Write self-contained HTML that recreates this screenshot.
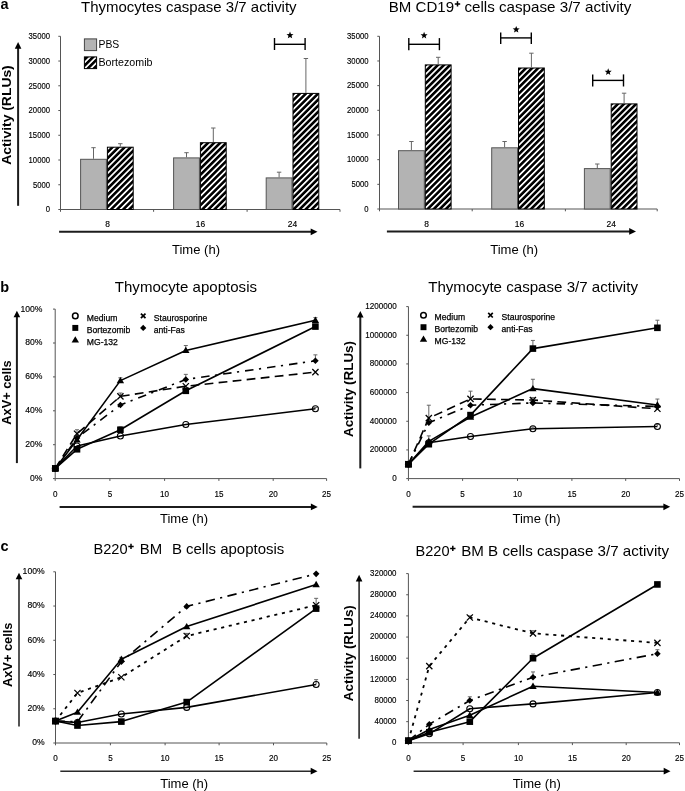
<!DOCTYPE html><html><head><meta charset="utf-8"><style>html,body{margin:0;padding:0;background:#fff;}svg{display:block;will-change:transform;}text{font-family:"Liberation Sans", sans-serif;fill:#000;}</style></head><body>
<svg width="685" height="791" viewBox="0 0 685 791">
<defs><pattern id="hatch" patternUnits="userSpaceOnUse" width="4.3" height="4.3" patternTransform="rotate(45)"><rect width="4.3" height="4.3" fill="#000"/><rect x="0" y="0" width="1.7" height="4.3" fill="#fff"/></pattern></defs>
<rect width="685" height="791" fill="#fff"/>
<text x="0.40" y="8.80" font-size="14.5" text-anchor="start" font-weight="bold">a</text>
<text x="0.30" y="292.40" font-size="14.5" text-anchor="start" font-weight="bold">b</text>
<text x="0.60" y="550.80" font-size="14.5" text-anchor="start" font-weight="bold">c</text>
<text x="81.00" y="11.70" font-size="14.8" text-anchor="start" font-weight="normal" textLength="215.6" lengthAdjust="spacingAndGlyphs" xml:space="preserve">Thymocytes caspase 3/7 activity</text>
<text x="388.80" y="11.70" font-size="14.8" text-anchor="start" font-weight="normal" textLength="65.2" lengthAdjust="spacingAndGlyphs" xml:space="preserve">BM CD19</text>
<path d="M454.80,3.90H460.20M457.50,1.20V6.60" stroke="#000" stroke-width="1.5" fill="none"/>
<text x="464.40" y="11.70" font-size="14.8" text-anchor="start" font-weight="normal" textLength="167.0" lengthAdjust="spacingAndGlyphs" xml:space="preserve">cells caspase 3/7 activity</text>
<line x1="60.50" y1="36.30" x2="60.50" y2="209.50" stroke="#555" stroke-width="1"/>
<line x1="58.30" y1="209.50" x2="60.50" y2="209.50" stroke="#555" stroke-width="1"/>
<text x="50.00" y="212.30" font-size="8.6" text-anchor="end" font-weight="normal" textLength="4.28" lengthAdjust="spacingAndGlyphs" stroke="#000" stroke-width="0.15">0</text>
<line x1="58.30" y1="184.76" x2="60.50" y2="184.76" stroke="#555" stroke-width="1"/>
<text x="50.00" y="187.56" font-size="8.6" text-anchor="end" font-weight="normal" textLength="17.12" lengthAdjust="spacingAndGlyphs" stroke="#000" stroke-width="0.15">5000</text>
<line x1="58.30" y1="160.01" x2="60.50" y2="160.01" stroke="#555" stroke-width="1"/>
<text x="50.00" y="162.81" font-size="8.6" text-anchor="end" font-weight="normal" textLength="21.4" lengthAdjust="spacingAndGlyphs" stroke="#000" stroke-width="0.15">10000</text>
<line x1="58.30" y1="135.27" x2="60.50" y2="135.27" stroke="#555" stroke-width="1"/>
<text x="50.00" y="138.07" font-size="8.6" text-anchor="end" font-weight="normal" textLength="21.4" lengthAdjust="spacingAndGlyphs" stroke="#000" stroke-width="0.15">15000</text>
<line x1="58.30" y1="110.53" x2="60.50" y2="110.53" stroke="#555" stroke-width="1"/>
<text x="50.00" y="113.33" font-size="8.6" text-anchor="end" font-weight="normal" textLength="21.4" lengthAdjust="spacingAndGlyphs" stroke="#000" stroke-width="0.15">20000</text>
<line x1="58.30" y1="85.79" x2="60.50" y2="85.79" stroke="#555" stroke-width="1"/>
<text x="50.00" y="88.59" font-size="8.6" text-anchor="end" font-weight="normal" textLength="21.4" lengthAdjust="spacingAndGlyphs" stroke="#000" stroke-width="0.15">25000</text>
<line x1="58.30" y1="61.04" x2="60.50" y2="61.04" stroke="#555" stroke-width="1"/>
<text x="50.00" y="63.84" font-size="8.6" text-anchor="end" font-weight="normal" textLength="21.4" lengthAdjust="spacingAndGlyphs" stroke="#000" stroke-width="0.15">30000</text>
<line x1="58.30" y1="36.30" x2="60.50" y2="36.30" stroke="#555" stroke-width="1"/>
<text x="50.00" y="39.10" font-size="8.6" text-anchor="end" font-weight="normal" textLength="21.4" lengthAdjust="spacingAndGlyphs" stroke="#000" stroke-width="0.15">35000</text>
<line x1="60.50" y1="209.50" x2="340.00" y2="209.50" stroke="#555" stroke-width="1"/>
<line x1="60.50" y1="209.50" x2="60.50" y2="211.80" stroke="#555" stroke-width="1"/>
<line x1="153.60" y1="209.50" x2="153.60" y2="211.80" stroke="#555" stroke-width="1"/>
<line x1="247.10" y1="209.50" x2="247.10" y2="211.80" stroke="#555" stroke-width="1"/>
<line x1="340.00" y1="209.50" x2="340.00" y2="211.80" stroke="#555" stroke-width="1"/>
<rect x="80.60" y="159.30" width="25.80" height="50.20" fill="#b3b3b3" stroke="#555" stroke-width="1"/>
<line x1="93.50" y1="158.80" x2="93.50" y2="147.70" stroke="#666" stroke-width="1"/>
<line x1="91.30" y1="147.70" x2="95.70" y2="147.70" stroke="#666" stroke-width="1"/>
<rect x="107.40" y="147.20" width="25.80" height="62.30" fill="url(#hatch)" stroke="#000" stroke-width="1"/>
<line x1="120.30" y1="146.70" x2="120.30" y2="143.70" stroke="#666" stroke-width="1"/>
<line x1="118.10" y1="143.70" x2="122.50" y2="143.70" stroke="#666" stroke-width="1"/>
<rect x="173.60" y="157.90" width="25.80" height="51.60" fill="#b3b3b3" stroke="#555" stroke-width="1"/>
<line x1="186.50" y1="157.40" x2="186.50" y2="152.70" stroke="#666" stroke-width="1"/>
<line x1="184.30" y1="152.70" x2="188.70" y2="152.70" stroke="#666" stroke-width="1"/>
<rect x="200.40" y="142.70" width="25.80" height="66.80" fill="url(#hatch)" stroke="#000" stroke-width="1"/>
<line x1="213.30" y1="142.20" x2="213.30" y2="128.00" stroke="#666" stroke-width="1"/>
<line x1="211.10" y1="128.00" x2="215.50" y2="128.00" stroke="#666" stroke-width="1"/>
<rect x="266.20" y="177.90" width="25.80" height="31.60" fill="#b3b3b3" stroke="#555" stroke-width="1"/>
<line x1="279.10" y1="177.40" x2="279.10" y2="172.20" stroke="#666" stroke-width="1"/>
<line x1="276.90" y1="172.20" x2="281.30" y2="172.20" stroke="#666" stroke-width="1"/>
<rect x="293.00" y="93.40" width="25.80" height="116.10" fill="url(#hatch)" stroke="#000" stroke-width="1"/>
<line x1="305.90" y1="92.90" x2="305.90" y2="58.50" stroke="#666" stroke-width="1"/>
<line x1="303.70" y1="58.50" x2="308.10" y2="58.50" stroke="#666" stroke-width="1"/>
<text x="107.60" y="227.40" font-size="9.0" text-anchor="middle" font-weight="normal" textLength="4.7" lengthAdjust="spacingAndGlyphs" stroke="#000" stroke-width="0.15">8</text>
<text x="200.50" y="227.40" font-size="9.0" text-anchor="middle" font-weight="normal" textLength="9.4" lengthAdjust="spacingAndGlyphs" stroke="#000" stroke-width="0.15">16</text>
<text x="292.50" y="227.40" font-size="9.0" text-anchor="middle" font-weight="normal" textLength="9.4" lengthAdjust="spacingAndGlyphs" stroke="#000" stroke-width="0.15">24</text>
<line x1="274.50" y1="44.30" x2="305.10" y2="44.30" stroke="#000" stroke-width="1.4"/>
<line x1="274.50" y1="38.00" x2="274.50" y2="50.00" stroke="#000" stroke-width="1.4"/>
<line x1="305.10" y1="38.00" x2="305.10" y2="50.00" stroke="#000" stroke-width="1.4"/>
<polygon points="290.00,31.60 290.94,34.01 293.52,34.16 291.52,35.79 292.17,38.29 290.00,36.90 287.83,38.29 288.48,35.79 286.48,34.16 289.06,34.01" fill="#000"/>
<rect x="84.4" y="38.9" width="12.2" height="11.7" fill="#b3b3b3" stroke="#444" stroke-width="1"/>
<rect x="84.4" y="56.9" width="12.2" height="11.7" fill="url(#hatch)" stroke="#000" stroke-width="1"/>
<text x="98.50" y="47.60" font-size="10.4" text-anchor="start" font-weight="normal">PBS</text>
<text x="98.50" y="65.70" font-size="10.4" text-anchor="start" font-weight="normal" textLength="54.0" lengthAdjust="spacingAndGlyphs">Bortezomib</text>
<line x1="18.10" y1="205.80" x2="18.10" y2="47.70" stroke="#1c1c1c" stroke-width="2.0"/>
<polygon points="18.10,42.10 14.80,48.70 21.40,48.70" fill="#000"/>
<text transform="translate(10.80,115.00) rotate(-90)" x="0" y="0" font-size="13.3" font-weight="bold" text-anchor="middle" textLength="99.5" lengthAdjust="spacingAndGlyphs">Activity (RLUs)</text>
<line x1="59.10" y1="231.80" x2="311.70" y2="231.80" stroke="#1c1c1c" stroke-width="2.0"/>
<polygon points="317.50,231.80 310.70,228.40 310.70,235.20" fill="#000"/>
<text x="172.00" y="254.40" font-size="12.5" text-anchor="start" font-weight="normal" textLength="48.0" lengthAdjust="spacingAndGlyphs">Time (h)</text>
<line x1="379.50" y1="36.30" x2="379.50" y2="209.00" stroke="#555" stroke-width="1"/>
<line x1="377.30" y1="209.00" x2="379.50" y2="209.00" stroke="#555" stroke-width="1"/>
<text x="368.50" y="211.80" font-size="8.6" text-anchor="end" font-weight="normal" textLength="4.28" lengthAdjust="spacingAndGlyphs" stroke="#000" stroke-width="0.15">0</text>
<line x1="377.30" y1="184.33" x2="379.50" y2="184.33" stroke="#555" stroke-width="1"/>
<text x="368.50" y="187.13" font-size="8.6" text-anchor="end" font-weight="normal" textLength="17.12" lengthAdjust="spacingAndGlyphs" stroke="#000" stroke-width="0.15">5000</text>
<line x1="377.30" y1="159.66" x2="379.50" y2="159.66" stroke="#555" stroke-width="1"/>
<text x="368.50" y="162.46" font-size="8.6" text-anchor="end" font-weight="normal" textLength="21.4" lengthAdjust="spacingAndGlyphs" stroke="#000" stroke-width="0.15">10000</text>
<line x1="377.30" y1="134.99" x2="379.50" y2="134.99" stroke="#555" stroke-width="1"/>
<text x="368.50" y="137.79" font-size="8.6" text-anchor="end" font-weight="normal" textLength="21.4" lengthAdjust="spacingAndGlyphs" stroke="#000" stroke-width="0.15">15000</text>
<line x1="377.30" y1="110.31" x2="379.50" y2="110.31" stroke="#555" stroke-width="1"/>
<text x="368.50" y="113.11" font-size="8.6" text-anchor="end" font-weight="normal" textLength="21.4" lengthAdjust="spacingAndGlyphs" stroke="#000" stroke-width="0.15">20000</text>
<line x1="377.30" y1="85.64" x2="379.50" y2="85.64" stroke="#555" stroke-width="1"/>
<text x="368.50" y="88.44" font-size="8.6" text-anchor="end" font-weight="normal" textLength="21.4" lengthAdjust="spacingAndGlyphs" stroke="#000" stroke-width="0.15">25000</text>
<line x1="377.30" y1="60.97" x2="379.50" y2="60.97" stroke="#555" stroke-width="1"/>
<text x="368.50" y="63.77" font-size="8.6" text-anchor="end" font-weight="normal" textLength="21.4" lengthAdjust="spacingAndGlyphs" stroke="#000" stroke-width="0.15">30000</text>
<line x1="377.30" y1="36.30" x2="379.50" y2="36.30" stroke="#555" stroke-width="1"/>
<text x="368.50" y="39.10" font-size="8.6" text-anchor="end" font-weight="normal" textLength="21.4" lengthAdjust="spacingAndGlyphs" stroke="#000" stroke-width="0.15">35000</text>
<line x1="379.50" y1="209.00" x2="657.20" y2="209.00" stroke="#555" stroke-width="1"/>
<line x1="379.50" y1="209.00" x2="379.50" y2="211.30" stroke="#555" stroke-width="1"/>
<line x1="472.20" y1="209.00" x2="472.20" y2="211.30" stroke="#555" stroke-width="1"/>
<line x1="565.40" y1="209.00" x2="565.40" y2="211.30" stroke="#555" stroke-width="1"/>
<line x1="657.20" y1="209.00" x2="657.20" y2="211.30" stroke="#555" stroke-width="1"/>
<rect x="398.50" y="150.70" width="25.80" height="58.30" fill="#b3b3b3" stroke="#555" stroke-width="1"/>
<line x1="411.40" y1="150.20" x2="411.40" y2="141.50" stroke="#666" stroke-width="1"/>
<line x1="409.20" y1="141.50" x2="413.60" y2="141.50" stroke="#666" stroke-width="1"/>
<rect x="425.30" y="64.90" width="25.80" height="144.10" fill="url(#hatch)" stroke="#000" stroke-width="1"/>
<line x1="438.20" y1="64.40" x2="438.20" y2="57.30" stroke="#666" stroke-width="1"/>
<line x1="436.00" y1="57.30" x2="440.40" y2="57.30" stroke="#666" stroke-width="1"/>
<rect x="491.70" y="147.80" width="25.80" height="61.20" fill="#b3b3b3" stroke="#555" stroke-width="1"/>
<line x1="504.60" y1="147.30" x2="504.60" y2="141.50" stroke="#666" stroke-width="1"/>
<line x1="502.40" y1="141.50" x2="506.80" y2="141.50" stroke="#666" stroke-width="1"/>
<rect x="518.50" y="68.00" width="25.80" height="141.00" fill="url(#hatch)" stroke="#000" stroke-width="1"/>
<line x1="531.40" y1="67.50" x2="531.40" y2="53.20" stroke="#666" stroke-width="1"/>
<line x1="529.20" y1="53.20" x2="533.60" y2="53.20" stroke="#666" stroke-width="1"/>
<rect x="584.40" y="168.60" width="25.80" height="40.40" fill="#b3b3b3" stroke="#555" stroke-width="1"/>
<line x1="597.30" y1="168.10" x2="597.30" y2="164.00" stroke="#666" stroke-width="1"/>
<line x1="595.10" y1="164.00" x2="599.50" y2="164.00" stroke="#666" stroke-width="1"/>
<rect x="611.20" y="103.90" width="25.80" height="105.10" fill="url(#hatch)" stroke="#000" stroke-width="1"/>
<line x1="624.10" y1="103.40" x2="624.10" y2="93.20" stroke="#666" stroke-width="1"/>
<line x1="621.90" y1="93.20" x2="626.30" y2="93.20" stroke="#666" stroke-width="1"/>
<text x="426.50" y="227.10" font-size="9.0" text-anchor="middle" font-weight="normal" textLength="4.7" lengthAdjust="spacingAndGlyphs" stroke="#000" stroke-width="0.15">8</text>
<text x="519.40" y="227.10" font-size="9.0" text-anchor="middle" font-weight="normal" textLength="9.4" lengthAdjust="spacingAndGlyphs" stroke="#000" stroke-width="0.15">16</text>
<text x="611.20" y="227.10" font-size="9.0" text-anchor="middle" font-weight="normal" textLength="9.4" lengthAdjust="spacingAndGlyphs" stroke="#000" stroke-width="0.15">24</text>
<line x1="408.80" y1="44.30" x2="439.40" y2="44.30" stroke="#000" stroke-width="1.4"/>
<line x1="408.80" y1="38.10" x2="408.80" y2="50.20" stroke="#000" stroke-width="1.4"/>
<line x1="439.40" y1="38.10" x2="439.40" y2="50.20" stroke="#000" stroke-width="1.4"/>
<polygon points="424.10,31.80 425.04,34.21 427.62,34.36 425.62,35.99 426.27,38.49 424.10,37.10 421.93,38.49 422.58,35.99 420.58,34.36 423.16,34.21" fill="#000"/>
<line x1="500.70" y1="37.90" x2="531.30" y2="37.90" stroke="#000" stroke-width="1.4"/>
<line x1="500.70" y1="32.40" x2="500.70" y2="44.10" stroke="#000" stroke-width="1.4"/>
<line x1="531.30" y1="32.40" x2="531.30" y2="44.10" stroke="#000" stroke-width="1.4"/>
<polygon points="516.20,25.90 517.14,28.31 519.72,28.46 517.72,30.09 518.37,32.59 516.20,31.20 514.03,32.59 514.68,30.09 512.68,28.46 515.26,28.31" fill="#000"/>
<line x1="592.70" y1="80.40" x2="623.50" y2="80.40" stroke="#000" stroke-width="1.4"/>
<line x1="592.70" y1="74.40" x2="592.70" y2="86.50" stroke="#000" stroke-width="1.4"/>
<line x1="623.50" y1="74.40" x2="623.50" y2="86.50" stroke="#000" stroke-width="1.4"/>
<polygon points="608.20,68.30 609.14,70.71 611.72,70.86 609.72,72.49 610.37,74.99 608.20,73.60 606.03,74.99 606.68,72.49 604.68,70.86 607.26,70.71" fill="#000"/>
<line x1="386.90" y1="231.40" x2="630.20" y2="231.40" stroke="#1c1c1c" stroke-width="2.0"/>
<polygon points="636.00,231.40 629.20,228.00 629.20,234.80" fill="#000"/>
<text x="490.20" y="254.40" font-size="12.5" text-anchor="start" font-weight="normal" textLength="48.0" lengthAdjust="spacingAndGlyphs">Time (h)</text>
<text x="114.80" y="291.80" font-size="14.8" text-anchor="start" font-weight="normal" textLength="142.2" lengthAdjust="spacingAndGlyphs" xml:space="preserve">Thymocyte apoptosis</text>
<text x="428.20" y="292.30" font-size="14.8" text-anchor="start" font-weight="normal" textLength="209.8" lengthAdjust="spacingAndGlyphs" xml:space="preserve">Thymocyte caspase 3/7 activity</text>
<line x1="55.20" y1="309.10" x2="55.20" y2="478.60" stroke="#555" stroke-width="1"/>
<line x1="53.00" y1="478.60" x2="55.20" y2="478.60" stroke="#555" stroke-width="1"/>
<text x="42.50" y="481.00" font-size="8.6" text-anchor="end" font-weight="normal" stroke="#000" stroke-width="0.15">0%</text>
<line x1="53.00" y1="444.70" x2="55.20" y2="444.70" stroke="#555" stroke-width="1"/>
<text x="42.50" y="447.10" font-size="8.6" text-anchor="end" font-weight="normal" stroke="#000" stroke-width="0.15">20%</text>
<line x1="53.00" y1="410.80" x2="55.20" y2="410.80" stroke="#555" stroke-width="1"/>
<text x="42.50" y="413.20" font-size="8.6" text-anchor="end" font-weight="normal" stroke="#000" stroke-width="0.15">40%</text>
<line x1="53.00" y1="376.90" x2="55.20" y2="376.90" stroke="#555" stroke-width="1"/>
<text x="42.50" y="379.30" font-size="8.6" text-anchor="end" font-weight="normal" stroke="#000" stroke-width="0.15">60%</text>
<line x1="53.00" y1="343.00" x2="55.20" y2="343.00" stroke="#555" stroke-width="1"/>
<text x="42.50" y="345.40" font-size="8.6" text-anchor="end" font-weight="normal" stroke="#000" stroke-width="0.15">80%</text>
<line x1="53.00" y1="309.10" x2="55.20" y2="309.10" stroke="#555" stroke-width="1"/>
<text x="42.50" y="311.50" font-size="8.6" text-anchor="end" font-weight="normal" stroke="#000" stroke-width="0.15">100%</text>
<line x1="55.20" y1="478.60" x2="326.60" y2="478.60" stroke="#555" stroke-width="1"/>
<line x1="55.20" y1="478.60" x2="55.20" y2="480.90" stroke="#555" stroke-width="1"/>
<text x="55.20" y="497.00" font-size="8.6" text-anchor="middle" font-weight="normal" textLength="4.5" lengthAdjust="spacingAndGlyphs" stroke="#000" stroke-width="0.15">0</text>
<line x1="109.90" y1="478.60" x2="109.90" y2="480.90" stroke="#555" stroke-width="1"/>
<text x="109.90" y="497.00" font-size="8.6" text-anchor="middle" font-weight="normal" textLength="4.5" lengthAdjust="spacingAndGlyphs" stroke="#000" stroke-width="0.15">5</text>
<line x1="164.60" y1="478.60" x2="164.60" y2="480.90" stroke="#555" stroke-width="1"/>
<text x="164.60" y="497.00" font-size="8.6" text-anchor="middle" font-weight="normal" textLength="9.0" lengthAdjust="spacingAndGlyphs" stroke="#000" stroke-width="0.15">10</text>
<line x1="218.90" y1="478.60" x2="218.90" y2="480.90" stroke="#555" stroke-width="1"/>
<text x="218.90" y="497.00" font-size="8.6" text-anchor="middle" font-weight="normal" textLength="9.0" lengthAdjust="spacingAndGlyphs" stroke="#000" stroke-width="0.15">15</text>
<line x1="273.20" y1="478.60" x2="273.20" y2="480.90" stroke="#555" stroke-width="1"/>
<text x="273.20" y="497.00" font-size="8.6" text-anchor="middle" font-weight="normal" textLength="9.0" lengthAdjust="spacingAndGlyphs" stroke="#000" stroke-width="0.15">20</text>
<line x1="326.60" y1="478.60" x2="326.60" y2="480.90" stroke="#555" stroke-width="1"/>
<text x="326.60" y="497.00" font-size="8.6" text-anchor="middle" font-weight="normal" textLength="9.0" lengthAdjust="spacingAndGlyphs" stroke="#000" stroke-width="0.15">25</text>
<polyline points="55.30,468.43 77.00,446.06 120.40,436.06 185.80,424.53 315.40,408.77" fill="none" stroke="#000" stroke-width="1.6" stroke-linejoin="round"/>
<polyline points="55.30,468.43 77.00,449.28 120.40,429.78 185.80,390.80 315.40,326.56" fill="none" stroke="#000" stroke-width="1.6" stroke-linejoin="round"/>
<polyline points="55.30,468.43 77.00,439.78 120.40,380.63 185.80,350.46 315.40,320.29" fill="none" stroke="#000" stroke-width="1.6" stroke-linejoin="round"/>
<polyline points="55.30,468.43 77.00,433.68 120.40,396.39 185.80,386.22 315.40,372.15" fill="none" stroke="#000" stroke-width="1.6" stroke-dasharray="8.8,5.3" stroke-linejoin="round"/>
<polyline points="55.30,468.43 77.00,437.92 120.40,405.04 185.80,379.44 315.40,360.80" fill="none" stroke="#000" stroke-width="1.6" stroke-dasharray="8.5,5.5,2.2,6" stroke-linejoin="round"/>
<line x1="120.40" y1="380.63" x2="120.40" y2="377.75" stroke="#666" stroke-width="1"/>
<line x1="118.40" y1="377.75" x2="122.40" y2="377.75" stroke="#666" stroke-width="1"/>
<line x1="185.80" y1="350.46" x2="185.80" y2="345.54" stroke="#666" stroke-width="1"/>
<line x1="183.80" y1="345.54" x2="187.80" y2="345.54" stroke="#666" stroke-width="1"/>
<line x1="185.80" y1="379.44" x2="185.80" y2="374.36" stroke="#666" stroke-width="1"/>
<line x1="183.80" y1="374.36" x2="187.80" y2="374.36" stroke="#666" stroke-width="1"/>
<line x1="315.40" y1="360.80" x2="315.40" y2="354.87" stroke="#666" stroke-width="1"/>
<line x1="313.40" y1="354.87" x2="317.40" y2="354.87" stroke="#666" stroke-width="1"/>
<line x1="77.00" y1="433.68" x2="77.00" y2="429.78" stroke="#666" stroke-width="1"/>
<line x1="75.00" y1="429.78" x2="79.00" y2="429.78" stroke="#666" stroke-width="1"/>
<line x1="120.40" y1="396.39" x2="120.40" y2="393.00" stroke="#666" stroke-width="1"/>
<line x1="118.40" y1="393.00" x2="122.40" y2="393.00" stroke="#666" stroke-width="1"/>
<line x1="120.40" y1="429.78" x2="120.40" y2="426.90" stroke="#666" stroke-width="1"/>
<line x1="118.40" y1="426.90" x2="122.40" y2="426.90" stroke="#666" stroke-width="1"/>
<line x1="315.40" y1="320.29" x2="315.40" y2="317.58" stroke="#666" stroke-width="1"/>
<line x1="313.40" y1="317.58" x2="317.40" y2="317.58" stroke="#666" stroke-width="1"/>
<line x1="315.40" y1="408.77" x2="315.40" y2="407.41" stroke="#666" stroke-width="1"/>
<line x1="313.40" y1="407.41" x2="317.40" y2="407.41" stroke="#666" stroke-width="1"/>
<polygon points="55.30,465.13 58.60,468.43 55.30,471.73 52.00,468.43" fill="#000"/>
<polygon points="77.00,434.62 80.30,437.92 77.00,441.22 73.70,437.92" fill="#000"/>
<polygon points="120.40,401.74 123.70,405.04 120.40,408.34 117.10,405.04" fill="#000"/>
<polygon points="185.80,376.14 189.10,379.44 185.80,382.74 182.50,379.44" fill="#000"/>
<polygon points="315.40,357.50 318.70,360.80 315.40,364.10 312.10,360.80" fill="#000"/>
<path d="M52.20,465.33L58.40,471.53M58.40,465.33L52.20,471.53" stroke="#000" stroke-width="1.25" fill="none"/>
<path d="M73.90,430.58L80.10,436.78M80.10,430.58L73.90,436.78" stroke="#000" stroke-width="1.25" fill="none"/>
<path d="M117.30,393.29L123.50,399.49M123.50,393.29L117.30,399.49" stroke="#000" stroke-width="1.25" fill="none"/>
<path d="M182.70,383.12L188.90,389.32M188.90,383.12L182.70,389.32" stroke="#000" stroke-width="1.25" fill="none"/>
<path d="M312.30,369.05L318.50,375.25M318.50,369.05L312.30,375.25" stroke="#000" stroke-width="1.25" fill="none"/>
<circle cx="55.30" cy="468.43" r="3.00" fill="none" stroke="#000" stroke-width="1.1"/>
<circle cx="77.00" cy="446.06" r="3.00" fill="none" stroke="#000" stroke-width="1.1"/>
<circle cx="120.40" cy="436.06" r="3.00" fill="none" stroke="#000" stroke-width="1.1"/>
<circle cx="185.80" cy="424.53" r="3.00" fill="none" stroke="#000" stroke-width="1.1"/>
<circle cx="315.40" cy="408.77" r="3.00" fill="none" stroke="#000" stroke-width="1.1"/>
<polygon points="55.30,464.73 51.60,471.09 59.00,471.09" fill="#000"/>
<polygon points="77.00,436.08 73.30,442.45 80.70,442.45" fill="#000"/>
<polygon points="120.40,376.93 116.70,383.29 124.10,383.29" fill="#000"/>
<polygon points="185.80,346.76 182.10,353.12 189.50,353.12" fill="#000"/>
<polygon points="315.40,316.59 311.70,322.95 319.10,322.95" fill="#000"/>
<rect x="52.00" y="465.13" width="6.60" height="6.60" fill="#000"/>
<rect x="73.70" y="445.98" width="6.60" height="6.60" fill="#000"/>
<rect x="117.10" y="426.48" width="6.60" height="6.60" fill="#000"/>
<rect x="182.50" y="387.50" width="6.60" height="6.60" fill="#000"/>
<rect x="312.10" y="323.26" width="6.60" height="6.60" fill="#000"/>
<circle cx="75.30" cy="315.90" r="2.8" fill="none" stroke="#000" stroke-width="1.5"/>
<text x="86.80" y="320.70" font-size="8.6" text-anchor="start" font-weight="normal" stroke="#000" stroke-width="0.25">Medium</text>
<rect x="72.33" y="324.93" width="5.94" height="5.94" fill="#000"/>
<text x="86.80" y="332.70" font-size="8.6" text-anchor="start" font-weight="normal" stroke="#000" stroke-width="0.25">Bortezomib</text>
<polygon points="75.30,336.20 71.60,342.56 79.00,342.56" fill="#000"/>
<text x="86.80" y="344.70" font-size="8.6" text-anchor="start" font-weight="normal" stroke="#000" stroke-width="0.25">MG-132</text>
<path d="M140.90,313.60L145.50,318.20M145.50,313.60L140.90,318.20" stroke="#000" stroke-width="1.7" fill="none"/>
<text x="153.80" y="320.70" font-size="8.6" text-anchor="start" font-weight="normal" stroke="#000" stroke-width="0.25">Staurosporine</text>
<polygon points="143.20,324.76 146.33,327.90 143.20,331.03 140.06,327.90" fill="#000"/>
<text x="153.80" y="332.70" font-size="8.6" text-anchor="start" font-weight="normal" stroke="#000" stroke-width="0.25">anti-Fas</text>
<line x1="16.90" y1="463.10" x2="16.90" y2="316.30" stroke="#1c1c1c" stroke-width="2.0"/>
<polygon points="16.90,310.70 13.60,317.30 20.20,317.30" fill="#000"/>
<text transform="translate(11.20,392.50) rotate(-90)" x="0" y="0" font-size="13.2" font-weight="bold" text-anchor="middle" textLength="64.4" lengthAdjust="spacingAndGlyphs">AxV+ cells</text>
<line x1="59.60" y1="506.90" x2="311.90" y2="506.90" stroke="#1c1c1c" stroke-width="2.0"/>
<polygon points="317.70,506.90 310.90,503.50 310.90,510.30" fill="#000"/>
<text x="160.00" y="523.20" font-size="12.5" text-anchor="start" font-weight="normal" textLength="48.0" lengthAdjust="spacingAndGlyphs">Time (h)</text>
<line x1="408.45" y1="306.60" x2="408.45" y2="478.60" stroke="#555" stroke-width="1"/>
<line x1="406.25" y1="478.60" x2="408.45" y2="478.60" stroke="#555" stroke-width="1"/>
<text x="396.80" y="481.00" font-size="8.6" text-anchor="end" font-weight="normal" textLength="4.5" lengthAdjust="spacingAndGlyphs" stroke="#000" stroke-width="0.15">0</text>
<line x1="406.25" y1="449.93" x2="408.45" y2="449.93" stroke="#555" stroke-width="1"/>
<text x="396.80" y="452.33" font-size="8.6" text-anchor="end" font-weight="normal" textLength="27.0" lengthAdjust="spacingAndGlyphs" stroke="#000" stroke-width="0.15">200000</text>
<line x1="406.25" y1="421.27" x2="408.45" y2="421.27" stroke="#555" stroke-width="1"/>
<text x="396.80" y="423.67" font-size="8.6" text-anchor="end" font-weight="normal" textLength="27.0" lengthAdjust="spacingAndGlyphs" stroke="#000" stroke-width="0.15">400000</text>
<line x1="406.25" y1="392.60" x2="408.45" y2="392.60" stroke="#555" stroke-width="1"/>
<text x="396.80" y="395.00" font-size="8.6" text-anchor="end" font-weight="normal" textLength="27.0" lengthAdjust="spacingAndGlyphs" stroke="#000" stroke-width="0.15">600000</text>
<line x1="406.25" y1="363.93" x2="408.45" y2="363.93" stroke="#555" stroke-width="1"/>
<text x="396.80" y="366.33" font-size="8.6" text-anchor="end" font-weight="normal" textLength="27.0" lengthAdjust="spacingAndGlyphs" stroke="#000" stroke-width="0.15">800000</text>
<line x1="406.25" y1="335.27" x2="408.45" y2="335.27" stroke="#555" stroke-width="1"/>
<text x="396.80" y="337.67" font-size="8.6" text-anchor="end" font-weight="normal" textLength="31.5" lengthAdjust="spacingAndGlyphs" stroke="#000" stroke-width="0.15">1000000</text>
<line x1="406.25" y1="306.60" x2="408.45" y2="306.60" stroke="#555" stroke-width="1"/>
<text x="396.80" y="309.00" font-size="8.6" text-anchor="end" font-weight="normal" textLength="31.5" lengthAdjust="spacingAndGlyphs" stroke="#000" stroke-width="0.15">1200000</text>
<line x1="408.45" y1="478.60" x2="679.50" y2="478.60" stroke="#555" stroke-width="1"/>
<line x1="408.45" y1="478.60" x2="408.45" y2="480.90" stroke="#555" stroke-width="1"/>
<text x="408.45" y="496.50" font-size="8.6" text-anchor="middle" font-weight="normal" textLength="4.5" lengthAdjust="spacingAndGlyphs" stroke="#000" stroke-width="0.15">0</text>
<line x1="462.60" y1="478.60" x2="462.60" y2="480.90" stroke="#555" stroke-width="1"/>
<text x="462.60" y="496.50" font-size="8.6" text-anchor="middle" font-weight="normal" textLength="4.5" lengthAdjust="spacingAndGlyphs" stroke="#000" stroke-width="0.15">5</text>
<line x1="517.50" y1="478.60" x2="517.50" y2="480.90" stroke="#555" stroke-width="1"/>
<text x="517.50" y="496.50" font-size="8.6" text-anchor="middle" font-weight="normal" textLength="9.0" lengthAdjust="spacingAndGlyphs" stroke="#000" stroke-width="0.15">10</text>
<line x1="571.90" y1="478.60" x2="571.90" y2="480.90" stroke="#555" stroke-width="1"/>
<text x="571.90" y="496.50" font-size="8.6" text-anchor="middle" font-weight="normal" textLength="9.0" lengthAdjust="spacingAndGlyphs" stroke="#000" stroke-width="0.15">15</text>
<line x1="625.70" y1="478.60" x2="625.70" y2="480.90" stroke="#555" stroke-width="1"/>
<text x="625.70" y="496.50" font-size="8.6" text-anchor="middle" font-weight="normal" textLength="9.0" lengthAdjust="spacingAndGlyphs" stroke="#000" stroke-width="0.15">20</text>
<line x1="679.50" y1="478.60" x2="679.50" y2="480.90" stroke="#555" stroke-width="1"/>
<text x="679.50" y="496.50" font-size="8.6" text-anchor="middle" font-weight="normal" textLength="9.0" lengthAdjust="spacingAndGlyphs" stroke="#000" stroke-width="0.15">25</text>
<polyline points="408.45,464.27 428.80,442.77 470.50,436.46 532.90,428.72 657.40,426.43" fill="none" stroke="#000" stroke-width="1.6" stroke-linejoin="round"/>
<polyline points="408.45,464.27 428.80,444.20 470.50,415.10 532.90,348.60 657.40,327.81" fill="none" stroke="#000" stroke-width="1.6" stroke-linejoin="round"/>
<polyline points="408.45,464.27 428.80,441.33 470.50,416.97 532.90,388.59 657.40,404.93" fill="none" stroke="#000" stroke-width="1.6" stroke-linejoin="round"/>
<polyline points="408.45,464.27 428.80,418.11 470.50,398.91 532.90,400.05 657.40,408.80" fill="none" stroke="#000" stroke-width="1.6" stroke-dasharray="8.8,5.3" stroke-linejoin="round"/>
<polyline points="408.45,464.27 428.80,422.70 470.50,405.21 532.90,402.92 657.40,406.50" fill="none" stroke="#000" stroke-width="1.6" stroke-dasharray="8.5,5.5,2.2,6" stroke-linejoin="round"/>
<line x1="532.90" y1="348.60" x2="532.90" y2="340.43" stroke="#666" stroke-width="1"/>
<line x1="530.90" y1="340.43" x2="534.90" y2="340.43" stroke="#666" stroke-width="1"/>
<line x1="657.40" y1="327.81" x2="657.40" y2="320.22" stroke="#666" stroke-width="1"/>
<line x1="655.40" y1="320.22" x2="659.40" y2="320.22" stroke="#666" stroke-width="1"/>
<line x1="532.90" y1="388.59" x2="532.90" y2="379.27" stroke="#666" stroke-width="1"/>
<line x1="530.90" y1="379.27" x2="534.90" y2="379.27" stroke="#666" stroke-width="1"/>
<line x1="428.80" y1="441.33" x2="428.80" y2="435.89" stroke="#666" stroke-width="1"/>
<line x1="426.80" y1="435.89" x2="430.80" y2="435.89" stroke="#666" stroke-width="1"/>
<line x1="428.80" y1="418.11" x2="428.80" y2="405.21" stroke="#666" stroke-width="1"/>
<line x1="426.80" y1="405.21" x2="430.80" y2="405.21" stroke="#666" stroke-width="1"/>
<line x1="470.50" y1="398.91" x2="470.50" y2="391.17" stroke="#666" stroke-width="1"/>
<line x1="468.50" y1="391.17" x2="472.50" y2="391.17" stroke="#666" stroke-width="1"/>
<line x1="657.40" y1="404.93" x2="657.40" y2="399.05" stroke="#666" stroke-width="1"/>
<line x1="655.40" y1="399.05" x2="659.40" y2="399.05" stroke="#666" stroke-width="1"/>
<line x1="532.90" y1="428.72" x2="532.90" y2="427.00" stroke="#666" stroke-width="1"/>
<line x1="530.90" y1="427.00" x2="534.90" y2="427.00" stroke="#666" stroke-width="1"/>
<line x1="657.40" y1="426.43" x2="657.40" y2="424.42" stroke="#666" stroke-width="1"/>
<line x1="655.40" y1="424.42" x2="659.40" y2="424.42" stroke="#666" stroke-width="1"/>
<line x1="532.90" y1="400.05" x2="532.90" y2="397.62" stroke="#666" stroke-width="1"/>
<line x1="530.90" y1="397.62" x2="534.90" y2="397.62" stroke="#666" stroke-width="1"/>
<polygon points="408.45,460.97 411.75,464.27 408.45,467.57 405.15,464.27" fill="#000"/>
<polygon points="428.80,419.40 432.10,422.70 428.80,426.00 425.50,422.70" fill="#000"/>
<polygon points="470.50,401.91 473.80,405.21 470.50,408.51 467.20,405.21" fill="#000"/>
<polygon points="532.90,399.62 536.20,402.92 532.90,406.22 529.60,402.92" fill="#000"/>
<polygon points="657.40,403.20 660.70,406.50 657.40,409.80 654.10,406.50" fill="#000"/>
<path d="M405.35,461.17L411.55,467.37M411.55,461.17L405.35,467.37" stroke="#000" stroke-width="1.25" fill="none"/>
<path d="M425.70,415.01L431.90,421.21M431.90,415.01L425.70,421.21" stroke="#000" stroke-width="1.25" fill="none"/>
<path d="M467.40,395.81L473.60,402.01M473.60,395.81L467.40,402.01" stroke="#000" stroke-width="1.25" fill="none"/>
<path d="M529.80,396.95L536.00,403.15M536.00,396.95L529.80,403.15" stroke="#000" stroke-width="1.25" fill="none"/>
<path d="M654.30,405.70L660.50,411.90M660.50,405.70L654.30,411.90" stroke="#000" stroke-width="1.25" fill="none"/>
<circle cx="408.45" cy="464.27" r="3.00" fill="none" stroke="#000" stroke-width="1.1"/>
<circle cx="428.80" cy="442.77" r="3.00" fill="none" stroke="#000" stroke-width="1.1"/>
<circle cx="470.50" cy="436.46" r="3.00" fill="none" stroke="#000" stroke-width="1.1"/>
<circle cx="532.90" cy="428.72" r="3.00" fill="none" stroke="#000" stroke-width="1.1"/>
<circle cx="657.40" cy="426.43" r="3.00" fill="none" stroke="#000" stroke-width="1.1"/>
<polygon points="408.45,460.57 404.75,466.93 412.15,466.93" fill="#000"/>
<polygon points="428.80,437.63 425.10,444.00 432.50,444.00" fill="#000"/>
<polygon points="470.50,413.27 466.80,419.63 474.20,419.63" fill="#000"/>
<polygon points="532.90,384.89 529.20,391.25 536.60,391.25" fill="#000"/>
<polygon points="657.40,401.23 653.70,407.59 661.10,407.59" fill="#000"/>
<rect x="405.15" y="460.97" width="6.60" height="6.60" fill="#000"/>
<rect x="425.50" y="440.90" width="6.60" height="6.60" fill="#000"/>
<rect x="467.20" y="411.80" width="6.60" height="6.60" fill="#000"/>
<rect x="529.60" y="345.30" width="6.60" height="6.60" fill="#000"/>
<rect x="654.10" y="324.51" width="6.60" height="6.60" fill="#000"/>
<circle cx="423.50" cy="315.20" r="2.8" fill="none" stroke="#000" stroke-width="1.5"/>
<text x="434.60" y="320.00" font-size="8.6" text-anchor="start" font-weight="normal" stroke="#000" stroke-width="0.25">Medium</text>
<rect x="420.53" y="324.23" width="5.94" height="5.94" fill="#000"/>
<text x="434.60" y="332.00" font-size="8.6" text-anchor="start" font-weight="normal" stroke="#000" stroke-width="0.25">Bortezomib</text>
<polygon points="423.50,335.50 419.80,341.86 427.20,341.86" fill="#000"/>
<text x="434.60" y="344.00" font-size="8.6" text-anchor="start" font-weight="normal" stroke="#000" stroke-width="0.25">MG-132</text>
<path d="M488.20,312.90L492.80,317.50M492.80,312.90L488.20,317.50" stroke="#000" stroke-width="1.7" fill="none"/>
<text x="501.60" y="320.00" font-size="8.6" text-anchor="start" font-weight="normal" stroke="#000" stroke-width="0.25">Staurosporine</text>
<polygon points="490.50,324.06 493.63,327.20 490.50,330.33 487.37,327.20" fill="#000"/>
<text x="501.60" y="332.00" font-size="8.6" text-anchor="start" font-weight="normal" stroke="#000" stroke-width="0.25">anti-Fas</text>
<line x1="360.30" y1="468.40" x2="360.30" y2="316.60" stroke="#1c1c1c" stroke-width="2.0"/>
<polygon points="360.30,311.00 357.00,317.60 363.60,317.60" fill="#000"/>
<text transform="translate(352.70,389.00) rotate(-90)" x="0" y="0" font-size="13.3" font-weight="bold" text-anchor="middle" textLength="96.0" lengthAdjust="spacingAndGlyphs">Activity (RLUs)</text>
<line x1="412.60" y1="506.80" x2="664.40" y2="506.80" stroke="#1c1c1c" stroke-width="2.0"/>
<polygon points="670.20,506.80 663.40,503.40 663.40,510.20" fill="#000"/>
<text x="512.50" y="523.20" font-size="12.5" text-anchor="start" font-weight="normal" textLength="48.0" lengthAdjust="spacingAndGlyphs">Time (h)</text>
<text x="93.50" y="554.40" font-size="14.8" text-anchor="start" font-weight="normal" textLength="34.1" lengthAdjust="spacingAndGlyphs" xml:space="preserve">B220</text>
<path d="M128.30,546.40H133.70M131.00,543.70V549.10" stroke="#000" stroke-width="1.5" fill="none"/>
<text x="139.80" y="554.40" font-size="14.8" text-anchor="start" font-weight="normal" textLength="22.4" lengthAdjust="spacingAndGlyphs" xml:space="preserve">BM</text>
<text x="171.90" y="554.40" font-size="14.8" text-anchor="start" font-weight="normal" textLength="112.4" lengthAdjust="spacingAndGlyphs" xml:space="preserve">B cells apoptosis</text>
<text x="415.50" y="556.40" font-size="14.8" text-anchor="start" font-weight="normal" textLength="34.0" lengthAdjust="spacingAndGlyphs" xml:space="preserve">B220</text>
<path d="M450.10,548.40H455.50M452.80,545.70V551.10" stroke="#000" stroke-width="1.5" fill="none"/>
<text x="461.20" y="556.40" font-size="14.8" text-anchor="start" font-weight="normal" textLength="207.9" lengthAdjust="spacingAndGlyphs" xml:space="preserve">BM B cells caspase 3/7 activity</text>
<line x1="55.50" y1="571.80" x2="55.50" y2="743.00" stroke="#555" stroke-width="1"/>
<line x1="53.30" y1="743.00" x2="55.50" y2="743.00" stroke="#555" stroke-width="1"/>
<text x="44.60" y="745.40" font-size="8.6" text-anchor="end" font-weight="normal" stroke="#000" stroke-width="0.15">0%</text>
<line x1="53.30" y1="708.76" x2="55.50" y2="708.76" stroke="#555" stroke-width="1"/>
<text x="44.60" y="711.16" font-size="8.6" text-anchor="end" font-weight="normal" stroke="#000" stroke-width="0.15">20%</text>
<line x1="53.30" y1="674.52" x2="55.50" y2="674.52" stroke="#555" stroke-width="1"/>
<text x="44.60" y="676.92" font-size="8.6" text-anchor="end" font-weight="normal" stroke="#000" stroke-width="0.15">40%</text>
<line x1="53.30" y1="640.28" x2="55.50" y2="640.28" stroke="#555" stroke-width="1"/>
<text x="44.60" y="642.68" font-size="8.6" text-anchor="end" font-weight="normal" stroke="#000" stroke-width="0.15">60%</text>
<line x1="53.30" y1="606.04" x2="55.50" y2="606.04" stroke="#555" stroke-width="1"/>
<text x="44.60" y="608.44" font-size="8.6" text-anchor="end" font-weight="normal" stroke="#000" stroke-width="0.15">80%</text>
<line x1="53.30" y1="571.80" x2="55.50" y2="571.80" stroke="#555" stroke-width="1"/>
<text x="44.60" y="574.20" font-size="8.6" text-anchor="end" font-weight="normal" stroke="#000" stroke-width="0.15">100%</text>
<line x1="55.50" y1="743.00" x2="326.80" y2="743.00" stroke="#555" stroke-width="1"/>
<line x1="55.50" y1="743.00" x2="55.50" y2="745.30" stroke="#555" stroke-width="1"/>
<text x="55.50" y="760.60" font-size="8.6" text-anchor="middle" font-weight="normal" textLength="4.5" lengthAdjust="spacingAndGlyphs" stroke="#000" stroke-width="0.15">0</text>
<line x1="110.40" y1="743.00" x2="110.40" y2="745.30" stroke="#555" stroke-width="1"/>
<text x="110.40" y="760.60" font-size="8.6" text-anchor="middle" font-weight="normal" textLength="4.5" lengthAdjust="spacingAndGlyphs" stroke="#000" stroke-width="0.15">5</text>
<line x1="165.10" y1="743.00" x2="165.10" y2="745.30" stroke="#555" stroke-width="1"/>
<text x="165.10" y="760.60" font-size="8.6" text-anchor="middle" font-weight="normal" textLength="9.0" lengthAdjust="spacingAndGlyphs" stroke="#000" stroke-width="0.15">10</text>
<line x1="219.10" y1="743.00" x2="219.10" y2="745.30" stroke="#555" stroke-width="1"/>
<text x="219.10" y="760.60" font-size="8.6" text-anchor="middle" font-weight="normal" textLength="9.0" lengthAdjust="spacingAndGlyphs" stroke="#000" stroke-width="0.15">15</text>
<line x1="273.50" y1="743.00" x2="273.50" y2="745.30" stroke="#555" stroke-width="1"/>
<text x="273.50" y="760.60" font-size="8.6" text-anchor="middle" font-weight="normal" textLength="9.0" lengthAdjust="spacingAndGlyphs" stroke="#000" stroke-width="0.15">20</text>
<line x1="326.80" y1="743.00" x2="326.80" y2="745.30" stroke="#555" stroke-width="1"/>
<text x="326.80" y="760.60" font-size="8.6" text-anchor="middle" font-weight="normal" textLength="9.0" lengthAdjust="spacingAndGlyphs" stroke="#000" stroke-width="0.15">25</text>
<polyline points="55.50,721.09 77.46,722.46 121.34,714.07 186.70,707.39 316.14,684.45" fill="none" stroke="#000" stroke-width="1.6" stroke-linejoin="round"/>
<polyline points="55.50,721.09 77.46,725.54 121.34,721.60 186.70,702.08 316.14,608.61" fill="none" stroke="#000" stroke-width="1.6" stroke-linejoin="round"/>
<polyline points="55.50,721.09 77.46,712.18 121.34,659.28 186.70,626.58 316.14,584.47" fill="none" stroke="#000" stroke-width="1.6" stroke-linejoin="round"/>
<polyline points="55.50,721.09 77.46,693.01 121.34,677.26 186.70,636.00 316.14,605.18" fill="none" stroke="#000" stroke-width="1.8" stroke-dasharray="3.1,4.7" stroke-linejoin="round"/>
<polyline points="55.50,721.09 77.46,721.77 121.34,661.68 186.70,606.38 316.14,573.85" fill="none" stroke="#000" stroke-width="1.6" stroke-dasharray="9.4,5.4,2.2,5.4" stroke-linejoin="round"/>
<line x1="316.14" y1="684.45" x2="316.14" y2="679.66" stroke="#666" stroke-width="1"/>
<line x1="314.14" y1="679.66" x2="318.14" y2="679.66" stroke="#666" stroke-width="1"/>
<line x1="316.14" y1="605.18" x2="316.14" y2="598.34" stroke="#666" stroke-width="1"/>
<line x1="314.14" y1="598.34" x2="318.14" y2="598.34" stroke="#666" stroke-width="1"/>
<line x1="186.70" y1="636.00" x2="186.70" y2="633.43" stroke="#666" stroke-width="1"/>
<line x1="184.70" y1="633.43" x2="188.70" y2="633.43" stroke="#666" stroke-width="1"/>
<line x1="121.34" y1="659.28" x2="121.34" y2="657.40" stroke="#666" stroke-width="1"/>
<line x1="119.34" y1="657.40" x2="123.34" y2="657.40" stroke="#666" stroke-width="1"/>
<polygon points="55.50,717.79 58.80,721.09 55.50,724.39 52.20,721.09" fill="#000"/>
<polygon points="77.46,718.47 80.76,721.77 77.46,725.07 74.16,721.77" fill="#000"/>
<polygon points="121.34,658.38 124.64,661.68 121.34,664.98 118.04,661.68" fill="#000"/>
<polygon points="186.70,603.08 190.00,606.38 186.70,609.68 183.40,606.38" fill="#000"/>
<polygon points="316.14,570.55 319.44,573.85 316.14,577.15 312.84,573.85" fill="#000"/>
<path d="M52.40,717.99L58.60,724.19M58.60,717.99L52.40,724.19" stroke="#000" stroke-width="1.25" fill="none"/>
<path d="M74.36,689.91L80.56,696.11M80.56,689.91L74.36,696.11" stroke="#000" stroke-width="1.25" fill="none"/>
<path d="M118.24,674.16L124.44,680.36M124.44,674.16L118.24,680.36" stroke="#000" stroke-width="1.25" fill="none"/>
<path d="M183.60,632.90L189.80,639.10M189.80,632.90L183.60,639.10" stroke="#000" stroke-width="1.25" fill="none"/>
<path d="M313.04,602.08L319.24,608.28M319.24,602.08L313.04,608.28" stroke="#000" stroke-width="1.25" fill="none"/>
<circle cx="55.50" cy="721.09" r="3.00" fill="none" stroke="#000" stroke-width="1.1"/>
<circle cx="77.46" cy="722.46" r="3.00" fill="none" stroke="#000" stroke-width="1.1"/>
<circle cx="121.34" cy="714.07" r="3.00" fill="none" stroke="#000" stroke-width="1.1"/>
<circle cx="186.70" cy="707.39" r="3.00" fill="none" stroke="#000" stroke-width="1.1"/>
<circle cx="316.14" cy="684.45" r="3.00" fill="none" stroke="#000" stroke-width="1.1"/>
<polygon points="55.50,717.39 51.80,723.75 59.20,723.75" fill="#000"/>
<polygon points="77.46,708.48 73.76,714.85 81.16,714.85" fill="#000"/>
<polygon points="121.34,655.58 117.64,661.95 125.04,661.95" fill="#000"/>
<polygon points="186.70,622.88 183.00,629.25 190.40,629.25" fill="#000"/>
<polygon points="316.14,580.77 312.44,587.13 319.84,587.13" fill="#000"/>
<rect x="52.20" y="717.79" width="6.60" height="6.60" fill="#000"/>
<rect x="74.16" y="722.24" width="6.60" height="6.60" fill="#000"/>
<rect x="118.04" y="718.30" width="6.60" height="6.60" fill="#000"/>
<rect x="183.40" y="698.78" width="6.60" height="6.60" fill="#000"/>
<rect x="312.84" y="605.31" width="6.60" height="6.60" fill="#000"/>
<line x1="19.00" y1="726.50" x2="19.00" y2="578.30" stroke="#2a2a2a" stroke-width="1.6"/>
<polygon points="19.00,572.70 15.70,579.30 22.30,579.30" fill="#000"/>
<text transform="translate(12.30,654.80) rotate(-90)" x="0" y="0" font-size="13.2" font-weight="bold" text-anchor="middle" textLength="64.4" lengthAdjust="spacingAndGlyphs">AxV+ cells</text>
<line x1="60.30" y1="771.20" x2="311.70" y2="771.20" stroke="#2a2a2a" stroke-width="1.6"/>
<polygon points="317.50,771.20 310.70,767.80 310.70,774.60" fill="#000"/>
<text x="160.20" y="787.50" font-size="12.5" text-anchor="start" font-weight="normal" textLength="48.0" lengthAdjust="spacingAndGlyphs">Time (h)</text>
<line x1="408.40" y1="573.60" x2="408.40" y2="742.80" stroke="#555" stroke-width="1"/>
<line x1="406.20" y1="742.80" x2="408.40" y2="742.80" stroke="#555" stroke-width="1"/>
<text x="396.50" y="745.20" font-size="8.6" text-anchor="end" font-weight="normal" textLength="4.4" lengthAdjust="spacingAndGlyphs" stroke="#000" stroke-width="0.15">0</text>
<line x1="406.20" y1="721.65" x2="408.40" y2="721.65" stroke="#555" stroke-width="1"/>
<text x="396.50" y="724.05" font-size="8.6" text-anchor="end" font-weight="normal" textLength="22.0" lengthAdjust="spacingAndGlyphs" stroke="#000" stroke-width="0.15">40000</text>
<line x1="406.20" y1="700.50" x2="408.40" y2="700.50" stroke="#555" stroke-width="1"/>
<text x="396.50" y="702.90" font-size="8.6" text-anchor="end" font-weight="normal" textLength="22.0" lengthAdjust="spacingAndGlyphs" stroke="#000" stroke-width="0.15">80000</text>
<line x1="406.20" y1="679.35" x2="408.40" y2="679.35" stroke="#555" stroke-width="1"/>
<text x="396.50" y="681.75" font-size="8.6" text-anchor="end" font-weight="normal" textLength="26.4" lengthAdjust="spacingAndGlyphs" stroke="#000" stroke-width="0.15">120000</text>
<line x1="406.20" y1="658.20" x2="408.40" y2="658.20" stroke="#555" stroke-width="1"/>
<text x="396.50" y="660.60" font-size="8.6" text-anchor="end" font-weight="normal" textLength="26.4" lengthAdjust="spacingAndGlyphs" stroke="#000" stroke-width="0.15">160000</text>
<line x1="406.20" y1="637.05" x2="408.40" y2="637.05" stroke="#555" stroke-width="1"/>
<text x="396.50" y="639.45" font-size="8.6" text-anchor="end" font-weight="normal" textLength="26.4" lengthAdjust="spacingAndGlyphs" stroke="#000" stroke-width="0.15">200000</text>
<line x1="406.20" y1="615.90" x2="408.40" y2="615.90" stroke="#555" stroke-width="1"/>
<text x="396.50" y="618.30" font-size="8.6" text-anchor="end" font-weight="normal" textLength="26.4" lengthAdjust="spacingAndGlyphs" stroke="#000" stroke-width="0.15">240000</text>
<line x1="406.20" y1="594.75" x2="408.40" y2="594.75" stroke="#555" stroke-width="1"/>
<text x="396.50" y="597.15" font-size="8.6" text-anchor="end" font-weight="normal" textLength="26.4" lengthAdjust="spacingAndGlyphs" stroke="#000" stroke-width="0.15">280000</text>
<line x1="406.20" y1="573.60" x2="408.40" y2="573.60" stroke="#555" stroke-width="1"/>
<text x="396.50" y="576.00" font-size="8.6" text-anchor="end" font-weight="normal" textLength="26.4" lengthAdjust="spacingAndGlyphs" stroke="#000" stroke-width="0.15">320000</text>
<line x1="408.40" y1="742.80" x2="679.50" y2="742.80" stroke="#555" stroke-width="1"/>
<line x1="408.40" y1="742.80" x2="408.40" y2="745.10" stroke="#555" stroke-width="1"/>
<text x="408.40" y="760.80" font-size="8.6" text-anchor="middle" font-weight="normal" textLength="4.5" lengthAdjust="spacingAndGlyphs" stroke="#000" stroke-width="0.15">0</text>
<line x1="463.10" y1="742.80" x2="463.10" y2="745.10" stroke="#555" stroke-width="1"/>
<text x="463.10" y="760.80" font-size="8.6" text-anchor="middle" font-weight="normal" textLength="4.5" lengthAdjust="spacingAndGlyphs" stroke="#000" stroke-width="0.15">5</text>
<line x1="518.40" y1="742.80" x2="518.40" y2="745.10" stroke="#555" stroke-width="1"/>
<text x="518.40" y="760.80" font-size="8.6" text-anchor="middle" font-weight="normal" textLength="9.0" lengthAdjust="spacingAndGlyphs" stroke="#000" stroke-width="0.15">10</text>
<line x1="572.40" y1="742.80" x2="572.40" y2="745.10" stroke="#555" stroke-width="1"/>
<text x="572.40" y="760.80" font-size="8.6" text-anchor="middle" font-weight="normal" textLength="9.0" lengthAdjust="spacingAndGlyphs" stroke="#000" stroke-width="0.15">15</text>
<line x1="626.20" y1="742.80" x2="626.20" y2="745.10" stroke="#555" stroke-width="1"/>
<text x="626.20" y="760.80" font-size="8.6" text-anchor="middle" font-weight="normal" textLength="9.0" lengthAdjust="spacingAndGlyphs" stroke="#000" stroke-width="0.15">20</text>
<line x1="679.50" y1="742.80" x2="679.50" y2="745.10" stroke="#555" stroke-width="1"/>
<text x="679.50" y="760.80" font-size="8.6" text-anchor="middle" font-weight="normal" textLength="9.0" lengthAdjust="spacingAndGlyphs" stroke="#000" stroke-width="0.15">25</text>
<polyline points="408.40,740.68 429.30,733.81 469.80,708.70 533.00,703.88 657.40,692.57" fill="none" stroke="#000" stroke-width="1.6" stroke-linejoin="round"/>
<polyline points="408.40,740.68 429.30,732.22 469.80,721.65 533.00,658.20 657.40,584.44" fill="none" stroke="#000" stroke-width="1.6" stroke-linejoin="round"/>
<polyline points="408.40,740.68 429.30,729.58 469.80,715.30 533.00,686.22 657.40,692.57" fill="none" stroke="#000" stroke-width="1.6" stroke-linejoin="round"/>
<polyline points="408.40,740.68 429.30,666.13 469.80,617.49 533.00,633.35 657.40,642.87" fill="none" stroke="#000" stroke-width="1.8" stroke-dasharray="3.1,4.7" stroke-linejoin="round"/>
<polyline points="408.40,740.68 429.30,724.29 469.80,700.50 533.00,677.24 657.40,653.71" fill="none" stroke="#000" stroke-width="1.6" stroke-dasharray="9.4,5.4,2.2,5.4" stroke-linejoin="round"/>
<line x1="469.80" y1="700.50" x2="469.80" y2="696.80" stroke="#666" stroke-width="1"/>
<line x1="467.80" y1="696.80" x2="471.80" y2="696.80" stroke="#666" stroke-width="1"/>
<line x1="533.00" y1="677.24" x2="533.00" y2="671.95" stroke="#666" stroke-width="1"/>
<line x1="531.00" y1="671.95" x2="535.00" y2="671.95" stroke="#666" stroke-width="1"/>
<line x1="533.00" y1="658.20" x2="533.00" y2="653.97" stroke="#666" stroke-width="1"/>
<line x1="531.00" y1="653.97" x2="535.00" y2="653.97" stroke="#666" stroke-width="1"/>
<line x1="469.80" y1="617.49" x2="469.80" y2="615.90" stroke="#666" stroke-width="1"/>
<line x1="467.80" y1="615.90" x2="471.80" y2="615.90" stroke="#666" stroke-width="1"/>
<line x1="533.00" y1="633.35" x2="533.00" y2="630.71" stroke="#666" stroke-width="1"/>
<line x1="531.00" y1="630.71" x2="535.00" y2="630.71" stroke="#666" stroke-width="1"/>
<line x1="657.40" y1="653.71" x2="657.40" y2="649.74" stroke="#666" stroke-width="1"/>
<line x1="655.40" y1="649.74" x2="659.40" y2="649.74" stroke="#666" stroke-width="1"/>
<line x1="657.40" y1="584.44" x2="657.40" y2="582.59" stroke="#666" stroke-width="1"/>
<line x1="655.40" y1="582.59" x2="659.40" y2="582.59" stroke="#666" stroke-width="1"/>
<polygon points="408.40,737.38 411.70,740.68 408.40,743.98 405.10,740.68" fill="#000"/>
<polygon points="429.30,720.99 432.60,724.29 429.30,727.59 426.00,724.29" fill="#000"/>
<polygon points="469.80,697.20 473.10,700.50 469.80,703.80 466.50,700.50" fill="#000"/>
<polygon points="533.00,673.94 536.30,677.24 533.00,680.53 529.70,677.24" fill="#000"/>
<polygon points="657.40,650.41 660.70,653.71 657.40,657.01 654.10,653.71" fill="#000"/>
<path d="M405.30,737.58L411.50,743.78M411.50,737.58L405.30,743.78" stroke="#000" stroke-width="1.25" fill="none"/>
<path d="M426.20,663.03L432.40,669.23M432.40,663.03L426.20,669.23" stroke="#000" stroke-width="1.25" fill="none"/>
<path d="M466.70,614.39L472.90,620.59M472.90,614.39L466.70,620.59" stroke="#000" stroke-width="1.25" fill="none"/>
<path d="M529.90,630.25L536.10,636.45M536.10,630.25L529.90,636.45" stroke="#000" stroke-width="1.25" fill="none"/>
<path d="M654.30,639.77L660.50,645.97M660.50,639.77L654.30,645.97" stroke="#000" stroke-width="1.25" fill="none"/>
<circle cx="408.40" cy="740.68" r="3.00" fill="none" stroke="#000" stroke-width="1.1"/>
<circle cx="429.30" cy="733.81" r="3.00" fill="none" stroke="#000" stroke-width="1.1"/>
<circle cx="469.80" cy="708.70" r="3.00" fill="none" stroke="#000" stroke-width="1.1"/>
<circle cx="533.00" cy="703.88" r="3.00" fill="none" stroke="#000" stroke-width="1.1"/>
<circle cx="657.40" cy="692.57" r="3.00" fill="none" stroke="#000" stroke-width="1.1"/>
<polygon points="408.40,736.98 404.70,743.35 412.10,743.35" fill="#000"/>
<polygon points="429.30,725.88 425.60,732.25 433.00,732.25" fill="#000"/>
<polygon points="469.80,711.60 466.10,717.97 473.50,717.97" fill="#000"/>
<polygon points="533.00,682.52 529.30,688.89 536.70,688.89" fill="#000"/>
<polygon points="657.40,688.87 653.70,695.23 661.10,695.23" fill="#000"/>
<rect x="405.10" y="737.38" width="6.60" height="6.60" fill="#000"/>
<rect x="426.00" y="728.92" width="6.60" height="6.60" fill="#000"/>
<rect x="466.50" y="718.35" width="6.60" height="6.60" fill="#000"/>
<rect x="529.70" y="654.90" width="6.60" height="6.60" fill="#000"/>
<rect x="654.10" y="581.14" width="6.60" height="6.60" fill="#000"/>
<line x1="359.10" y1="738.70" x2="359.10" y2="580.40" stroke="#2a2a2a" stroke-width="1.6"/>
<polygon points="359.10,574.80 355.80,581.40 362.40,581.40" fill="#000"/>
<text transform="translate(352.70,653.20) rotate(-90)" x="0" y="0" font-size="13.3" font-weight="bold" text-anchor="middle" textLength="96.0" lengthAdjust="spacingAndGlyphs">Activity (RLUs)</text>
<line x1="413.60" y1="771.20" x2="664.70" y2="771.20" stroke="#2a2a2a" stroke-width="1.6"/>
<polygon points="670.50,771.20 663.70,767.80 663.70,774.60" fill="#000"/>
<text x="512.80" y="787.50" font-size="12.5" text-anchor="start" font-weight="normal" textLength="48.0" lengthAdjust="spacingAndGlyphs">Time (h)</text>
</svg></body></html>
